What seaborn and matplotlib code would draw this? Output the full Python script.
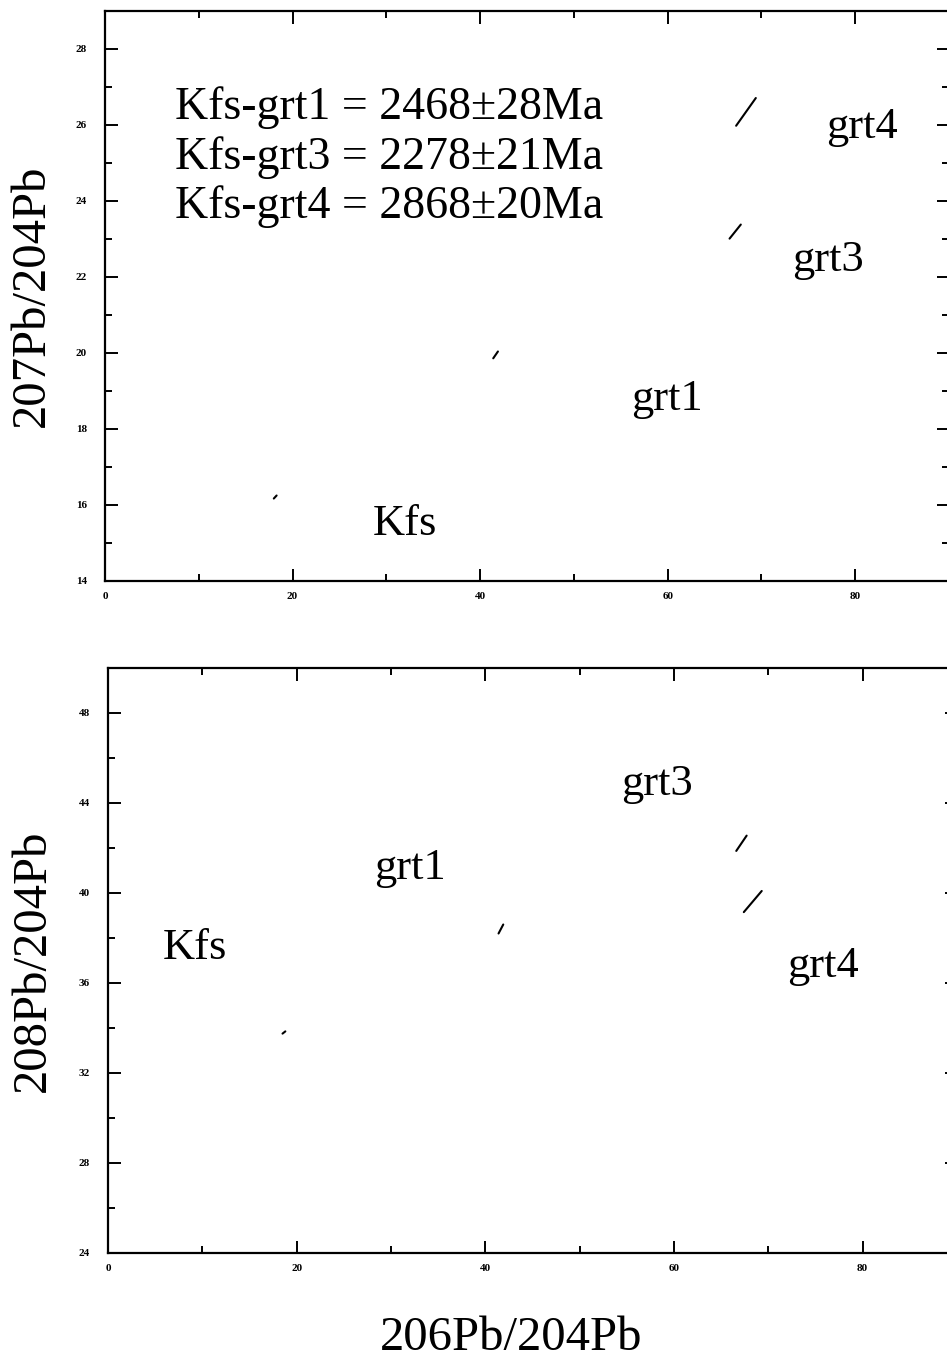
import numpy as np
import pandas as pd
import matplotlib
matplotlib.use("Agg")
import matplotlib.pyplot as plt
from matplotlib.ticker import MultipleLocator
import seaborn as sns

####################################################################################
## DATA  (error ellipses are so thin they show up as short slanted strokes)
####################################################################################
samples = ["Kfs", "grt1", "grt3", "grt4"]

# 206Pb/204Pb vs 207Pb/204Pb
pb207_x_start = [18.0, 41.4, 66.6, 67.3]
pb207_x_end = [18.3, 41.9, 67.8, 69.4]
pb207_y_start = [16.17, 19.86, 23.01, 25.98]
pb207_y_end = [16.25, 20.04, 23.38, 26.71]

# 206Pb/204Pb vs 208Pb/204Pb
pb208_x_start = [18.5, 41.4, 66.6, 67.4]
pb208_x_end = [18.8, 41.9, 67.7, 69.3]
pb208_y_start = [33.75, 38.2, 41.87, 39.15]
pb208_y_end = [33.85, 38.6, 42.55, 40.09]

# where the sample names sit (x centre, baseline)
pb207_label_x = [32.0, 59.9, 77.1, 80.7]
pb207_label_y = [15.2, 18.49, 22.17, 25.66]
pb208_label_x = [9.2, 32.0, 58.2, 75.8]
pb208_label_y = [37.05, 40.6, 44.34, 36.26]

age_lines = ["Kfs-grt1 = 2468\u00b128Ma",
             "Kfs-grt3 = 2278\u00b121Ma",
             "Kfs-grt4 = 2868\u00b120Ma"]
age_y = [26.16, 24.85, 23.54]


def to_long(names, xs, xe, ys, ye):
    rows = []
    for n, a, b, c, d in zip(names, xs, xe, ys, ye):
        rows.append({"sample": n, "x": a, "y": c})
        rows.append({"sample": n, "x": b, "y": d})
    return pd.DataFrame(rows)


df207 = to_long(samples, pb207_x_start, pb207_x_end, pb207_y_start, pb207_y_end)
df208 = to_long(samples, pb208_x_start, pb208_x_end, pb208_y_start, pb208_y_end)

####################################################################################
## Viz
####################################################################################
sns.set_style("ticks")
plt.rcParams['font.family'] = ['Liberation Serif', 'DejaVu Serif']
plt.rcParams['text.color'] = 'black'
plt.rcParams['axes.labelcolor'] = 'black'

W, H = 947, 1362
fig = plt.figure(figsize=(W / 100, H / 100), dpi=100)
ax1 = fig.add_axes([105 / W, 1 - 581 / H, 844 / W, 570 / H])
ax2 = fig.add_axes([108 / W, 1 - 1253 / H, 849 / W, 585 / H])


def style_axes(ax, ylim, ymajor, yminor):
    ax.set_xlim(0, 90)
    ax.set_ylim(*ylim)
    ax.xaxis.set_major_locator(MultipleLocator(20))
    ax.xaxis.set_minor_locator(MultipleLocator(10))
    ax.yaxis.set_major_locator(MultipleLocator(ymajor))
    ax.yaxis.set_minor_locator(MultipleLocator(yminor))
    ax.tick_params(which="both", direction="in", top=True, right=True,
                   width=1.4, colors="black")
    ax.tick_params(which="major", length=9)
    ax.tick_params(which="minor", length=5)
    ax.tick_params(axis="y", which="major", pad=13, labelsize=8)
    ax.tick_params(axis="x", which="major", pad=8, labelsize=8)
    for lab in ax.get_xticklabels() + ax.get_yticklabels():
        lab.set_fontweight("bold")
    for sp in ax.spines.values():
        sp.set_linewidth(1.6)
        sp.set_color("black")
    ax.set_xlabel("")
    ax.set_ylabel("")


for ax, df in [(ax1, df207), (ax2, df208)]:
    sns.lineplot(data=df, x="x", y="y", units="sample", estimator=None,
                 sort=False, color="black", lw=1.5, legend=False, ax=ax,
                 solid_capstyle="round")

style_axes(ax1, (14, 29), 2, 1)
style_axes(ax2, (24, 50), 4, 2)

for name, x, y in zip(samples, pb207_label_x, pb207_label_y):
    ax1.text(x, y, name, fontsize=32, ha="center", va="baseline")
for name, x, y in zip(samples, pb208_label_x, pb208_label_y):
    ax2.text(x, y, name, fontsize=32, ha="center", va="baseline")

for line, y in zip(age_lines, age_y):
    ax1.text(7.45, y, line, fontsize=33, ha="left", va="baseline")

ax1.set_ylabel("207Pb/204Pb", fontsize=35)
ax1.yaxis.set_label_coords(-0.06, 0.5)
ax2.set_ylabel("208Pb/204Pb", fontsize=35)
ax2.yaxis.set_label_coords(-0.063, 0.5)
ax2.set_xlabel("206Pb/204Pb", fontsize=35)
ax2.xaxis.set_label_coords(0.475, -0.108)

fig.savefig("out.png", dpi=100)
